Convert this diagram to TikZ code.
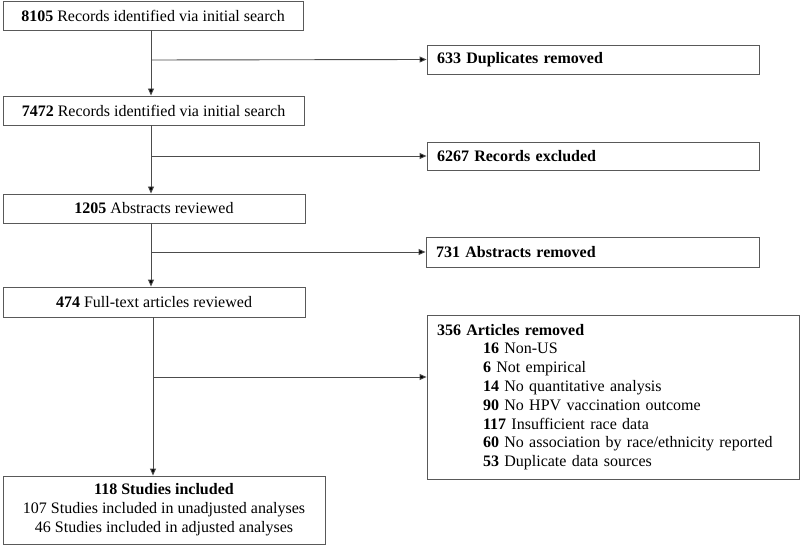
\documentclass[tikz,border=0pt]{standalone}
\usepackage{fontspec}
\setmainfont{Liberation Serif}
\usetikzlibrary{arrows.meta}
\begin{document}
\begin{tikzpicture}[x=1pt,y=1pt,
  box/.style={draw=black!65, line width=0.9pt, inner sep=0pt, align=center,
    font=\fontsize{16}{19}\selectfont},
  sidebox/.style={draw=black!65, line width=0.9pt, inner xsep=10pt, inner ysep=0pt,
    align=left, font=\fontsize{16}{18.8}\selectfont},
  conn/.style={draw=black!70, line width=0.9pt},
  arr/.style={conn, -{Triangle[length=7pt,width=6pt,fill=black]}}]
\useasboundingbox (0,0) rectangle (800,-545);
% main column
\node[box, minimum width=300, minimum height=29] (b1) at (153,-15.5) {\textbf{8105} Records identified via initial search};
\node[box, minimum width=301, minimum height=29] (b2) at (153.5,-110.5) {\textbf{7472} Records identified via initial search};
\node[box, minimum width=302, minimum height=29] (b3) at (154,-208.5) {\textbf{1205} Abstracts reviewed};
\node[box, minimum width=302, minimum height=30] (b4) at (154,-302) {\textbf{474} Full-text articles reviewed};
\node[box, minimum width=322, minimum height=68] (fin) at (164,-510) {\textbf{118 Studies included}\\107 Studies included in unadjusted analyses\\46 Studies included in adjusted analyses};
% side boxes
\node[sidebox, text width=312, minimum height=29] (r1) at (593,-59.5) {\textbf{633 Duplicates removed}};
\node[sidebox, text width=312, minimum height=28] (r2) at (593,-156) {\textbf{6267 Records excluded}};
\node[sidebox, text width=313, minimum height=30] (r3) at (592.5,-252) {\textbf{731 Abstracts removed}};
\node[sidebox, text width=352, minimum height=164] (r4) at (613,-397) {\textbf{356 Articles removed}\\
\hspace*{46pt}\textbf{16} Non-US\\
\hspace*{46pt}\textbf{6} Not empirical\\
\hspace*{46pt}\textbf{14} No quantitative analysis\\
\hspace*{46pt}\textbf{90} No HPV vaccination outcome\\
\hspace*{46pt}\textbf{117} Insufficient race data\\
\hspace*{46pt}\textbf{60} No association by race/ethnicity reported\\
\hspace*{46pt}\textbf{53} Duplicate data sources};
% junction coordinates on the main flow lines
\coordinate (j1) at (151,-60);
\coordinate (j2) at (151,-156);
\coordinate (j3) at (151,-252);
\coordinate (j4) at (153,-377);
% connectors
\draw[arr] (b1.south -| j1) -- (b2.north -| j1);
\draw[arr] (j1) -- (r1.west);
\draw[arr] (b2.south -| j2) -- (b3.north -| j2);
\draw[arr] (j2) -- (r2.west);
\draw[arr] (b3.south -| j3) -- (b4.north -| j3);
\draw[arr] (j3) -- (r3.west);
\draw[arr] (b4.south -| j4) -- (fin.north -| j4);
\draw[arr] (j4) -- (j4 -| r4.west);
\end{tikzpicture}
\end{document}
